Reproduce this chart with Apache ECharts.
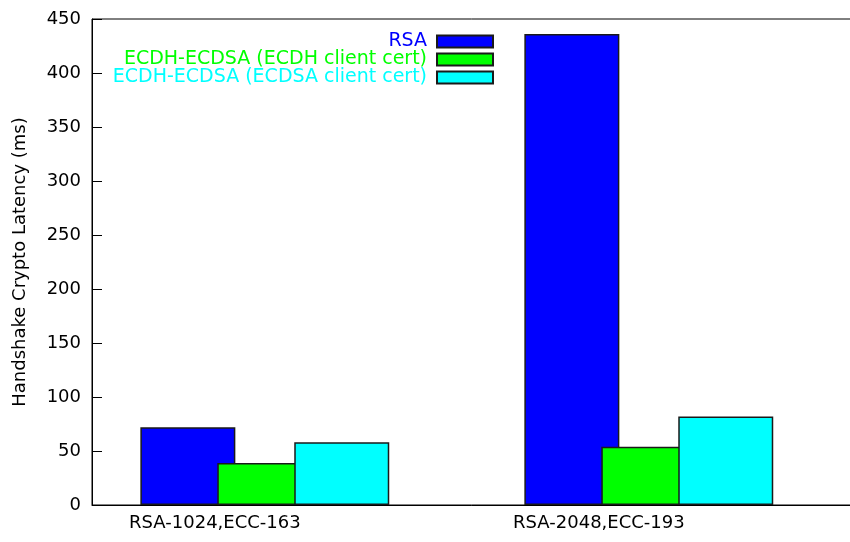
<!DOCTYPE html>
<html>
<head>
<meta charset="utf-8">
<title>Handshake Crypto Latency</title>
<script src="https://cdn.jsdelivr.net/npm/echarts@6/dist/echarts.min.js"></script>
<style>
  html, body { margin: 0; padding: 0; background: #fff; }
  #chart { width: 850px; height: 542px; }
</style>
</head>
<body>
<div id="chart"></div>
<script>
// Key sizes compared on the x axis (one group of bars per pair)
const categories = ['RSA-1024,ECC-163', 'RSA-2048,ECC-193'];
// Position of each group on the x value axis
const groupPos = [1, 2];

// Handshake crypto latency in ms
const seriesNames = ['RSA', 'ECDH-ECDSA (ECDH client cert)', 'ECDH-ECDSA (ECDSA client cert)'];
const rsa = [72, 436];
const ecdhClient = [39, 54];
const ecdsaClient = [58, 82];

// y axis ticks
const yMin = 0, yMax = 450, yStep = 50;

const colors = ['#0000ff', '#00ff00', '#00ffff'];
const FONT = 'DejaVu Sans';
const LABEL_SHIFT = 0.13; // group labels sit slightly left of the group centre

function toPoints(values) {
  return values.map((v, i) => [groupPos[i], v]);
}

const chart = echarts.init(document.getElementById('chart'), null, { renderer: 'canvas' });

const seriesValues = [rsa, ecdhClient, ecdsaClient];

chart.setOption({
  animation: false,
  backgroundColor: '#ffffff',
  grid: {
    left: 92,
    top: 19,
    bottom: 37,
    width: 768, // the plot frame runs past the right edge of the page
    outerBoundsMode: 'none',
    containLabel: false,
    show: true,
    borderColor: '#000',
    borderWidth: 1,
    backgroundColor: 'transparent'
  },
  legend: {
    orient: 'vertical',
    align: 'right',
    right: 356,
    top: 32,
    padding: 0,
    itemWidth: 56,
    itemHeight: 12,
    itemGap: -1,
    icon: 'rect',
    selectedMode: false,
    textStyle: { fontFamily: FONT, fontSize: 19, lineHeight: 16, padding: [0, 5, 0, 0] },
    data: seriesNames.map((n, i) => ({ name: n, textStyle: { color: colors[i] } }))
  },
  xAxis: {
    type: 'value',
    min: 0.55,
    max: 2.55,
    axisLine: { show: true, lineStyle: { color: '#000', width: 1 } },
    axisTick: { show: false },
    splitLine: { show: false },
    axisLabel: {
      customValues: groupPos.map(p => p - LABEL_SHIFT),
      formatter: function (v) {
        const idx = groupPos.indexOf(Math.round(v + LABEL_SHIFT));
        return idx >= 0 ? categories[idx] : '';
      },
      margin: 9,
      color: '#000',
      fontFamily: FONT,
      fontSize: 18
    }
  },
  yAxis: {
    type: 'value',
    min: yMin,
    max: yMax,
    interval: yStep,
    name: 'Handshake Crypto Latency (ms)',
    nameLocation: 'middle',
    nameRotate: 90,
    nameGap: 63,
    nameTextStyle: { color: '#000', fontFamily: FONT, fontSize: 18 },
    axisLine: { show: true, lineStyle: { color: '#000', width: 1 } },
    axisTick: { show: true, inside: true, length: 10, lineStyle: { color: '#000' } },
    splitLine: { show: false },
    axisLabel: { color: '#000', fontFamily: FONT, fontSize: 18, margin: 11 }
  },
  series: seriesNames.map((name, i) => ({
    name: name,
    type: 'bar',
    data: toPoints(seriesValues[i]),
    barWidth: 95,
    barGap: '-19%',
    itemStyle: { color: colors[i], borderColor: '#1a1a1a', borderWidth: 1.5 }
  }))
});
</script>
</body>
</html>
